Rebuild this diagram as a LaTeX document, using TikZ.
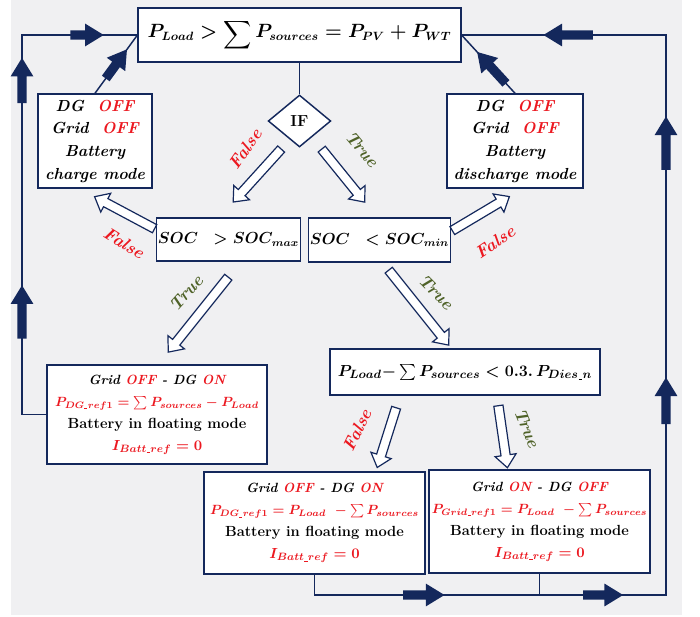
\documentclass[tikz,border=0pt]{standalone}
\usepackage{amsmath}
\usepackage{exscale}
\usepackage{graphicx}
\usetikzlibrary{shapes.geometric,shapes.arrows}

\definecolor{navy}{RGB}{20,40,92}
\definecolor{bggray}{RGB}{240,240,242}
\definecolor{offred}{RGB}{236,24,32}
\definecolor{truegreen}{RGB}{79,98,40}

\tikzset{
  box/.style={draw=navy, line width=1.1pt, fill=white, align=center, inner sep=1pt},
  flow/.style={draw=navy, line width=1.1pt},
  farrow/.style={single arrow, fill=navy, inner xsep=0pt, inner ysep=3pt,
    single arrow head extend=5pt, single arrow tip angle=63,
    sloped, allow upside down, minimum height=#1},
  harrow/.style={single arrow, draw=navy, fill=white, line width=0.9pt,
    inner xsep=0pt, inner ysep=3pt, single arrow head extend=4.5pt,
    single arrow tip angle=80, sloped, allow upside down, minimum height=#1},
  nolab/.style={text=offred, font=\bfseries\itshape\fontsize{13}{15}\selectfont},
  yeslab/.style={text=truegreen, font=\bfseries\itshape\fontsize{13}{15}\selectfont},
}
\newcommand{\red}[1]{\textcolor{offred}{#1}}
\newcommand{\us}{\text{\kern.04em\rule[-.12ex]{.32em}{.07ex}\kern.04em}}
\newcommand{\eqline}[1]{{\fontsize{10}{16.5}\selectfont\red{#1}}}
\newcommand{\bigsum}{\mathop{\raisebox{-2pt}{\scalebox{1.02}{$\displaystyle\sum$}}}}

\begin{document}
\begin{tikzpicture}[x=0.75pt,y=-0.75pt]
\useasboundingbox (0,0) rectangle (700,617);
\fill[white] (0,0) rectangle (700,617);
\fill[bggray] (11,0) rectangle (682,615);

% main condition
\node[box, inner sep=0pt, minimum width=242pt, minimum height=40.5pt,
  font=\boldmath\fontsize{13.5}{16}\selectfont] (top) at (299.5,35)
  {$P_{Load} > \bigsum P_{sources} = P_{PV} + P_{WT}$};
\node[diamond, draw=navy, line width=1.1pt, fill=white, inner sep=0pt,
  minimum width=47pt, minimum height=39pt, font=\bfseries\fontsize{12}{14}\selectfont]
  (ifnode) at (299.5,121) {IF};

% battery modes
\node[box, minimum width=85.5pt, minimum height=70.5pt,
  font=\bfseries\itshape\fontsize{12}{17}\selectfont] (charge) at (95,141)
  {DG~~\red{OFF}\\ Grid~~\red{OFF}\\ Battery\\ charge mode};
\node[box, minimum width=102pt, minimum height=70.5pt,
  font=\bfseries\itshape\fontsize{12}{17}\selectfont] (discharge) at (515,141)
  {DG~~\red{OFF}\\ Grid~~\red{OFF}\\ Battery\\ discharge mode};

% state of charge tests
\node[box, minimum width=100pt, minimum height=32pt,
  font=\boldmath\fontsize{12}{14}\selectfont] (socmax) at (228.5,239.5)
  {$SOC\ \ > SOC_{max}$};
\node[box, minimum width=100pt, minimum height=33pt,
  font=\boldmath\fontsize{12}{14}\selectfont] (socmin) at (379.5,240)
  {$SOC\ \ < SOC_{min}$};

% diesel / grid cases
\node[box, minimum width=165pt, minimum height=74pt,
  font=\bfseries\boldmath\fontsize{11}{16.5}\selectfont] (dgon) at (157,414.5)
  {{\fontsize{10}{16.5}\selectfont\itshape Grid\ \red{OFF} - DG\ \red{ON}}\\
   \eqline{$P_{DG\us ref1} = \sum P_{sources} - P_{Load}$}\\
   Battery in floating mode\\
   \red{$I_{Batt\us ref} = 0$}};
\node[box, minimum width=202.5pt, minimum height=34.5pt,
  font=\boldmath\fontsize{12.5}{15}\selectfont] (compare) at (465,372)
  {$P_{Load}{-}\sum P_{sources} < 0.3.\,P_{Dies\us n}$};
\node[box, minimum width=166pt, minimum height=76.5pt,
  font=\bfseries\boldmath\fontsize{11}{16.5}\selectfont] (dgonb) at (314.5,523)
  {{\fontsize{10}{16.5}\selectfont\itshape Grid\ \red{OFF} - DG\ \red{ON}}\\
   \eqline{$P_{DG\us ref1} = P_{Load}\ - \sum P_{sources}$}\\
   Battery in floating mode\\
   \red{$I_{Batt\us ref} = 0$}};
\node[box, minimum width=166pt, minimum height=77pt,
  font=\bfseries\boldmath\fontsize{11}{16.5}\selectfont] (gridon) at (539.5,521.5)
  {{\fontsize{10}{16.5}\selectfont\itshape Grid\ \red{ON}\ - DG\ \red{OFF}}\\
   \eqline{$P_{Grid\us ref1} = P_{Load}\ - \sum P_{sources}$}\\
   Battery in floating mode\\
   \red{$I_{Batt\us ref} = 0$}};

% feedback loops
\coordinate (lt) at (22,35);
\coordinate (rt) at (666,35);
\coordinate (rb) at (666,595);
\draw[flow] (top) -- (ifnode);
\draw[flow] (dgon.west) -- (dgon.west -| lt)
  -- node[farrow=40pt,pos=.26]{} node[farrow=34pt,pos=.87]{} (lt)
  -- node[farrow=25pt,pos=.53]{} (top.west);
\draw[flow] (charge.north) -- node[farrow=27pt,pos=.45]{} (top.west);
\draw[flow] (discharge.north) -- node[farrow=32pt,pos=.39]{} (top.east);
\draw[flow] (dgonb.south) -- (dgonb.south |- rb)
  -- node[farrow=31pt,pos=.30]{} node[farrow=30pt,pos=.81]{} (rb)
  -- node[farrow=35pt,pos=.34]{} node[farrow=40pt,pos=.80]{} (rt)
  -- node[farrow=37pt,pos=.46]{} (top.east);
\draw[flow] (gridon.south) -- (gridon.south |- rb);

% decision arrows
\coordinate (h1a) at (283,147); \coordinate (h1b) at (235,200);
\coordinate (h2a) at (320,147); \coordinate (h2b) at (363,200);
\coordinate (h3a) at (157,230); \coordinate (h3b) at (97,198);
\coordinate (h4a) at (230,275); \coordinate (h4b) at (170,350);
\coordinate (h5a) at (450,232); \coordinate (h5b) at (507,198);
\coordinate (h6a) at (387,268); \coordinate (h6b) at (447,343);
\coordinate (h7a) at (397,405); \coordinate (h7b) at (378,465);
\coordinate (h8a) at (498,403); \coordinate (h8b) at (507,465);
\path (h1a) -- node[harrow=53.6pt]{} (h1b);
\path (h2a) -- node[harrow=51.2pt]{} (h2b);
\path (h3a) -- node[harrow=51pt]{} (h3b);
\path (h4a) -- node[harrow=72pt]{} (h4b);
\path (h5a) -- node[harrow=49.8pt]{} (h5b);
\path (h6a) -- node[harrow=72pt]{} (h6b);
\path (h7a) -- node[harrow=47pt]{} (h7b);
\path (h8a) -- node[harrow=47pt]{} (h8b);

% branch labels
\node[nolab, rotate=55] (no1) at (245,149) {False};
\node[yeslab, rotate=-50] (yes1) at (362,149) {True};
\node[nolab, rotate=-32] (no2) at (124,243) {False};
\node[yeslab, rotate=48] (yes2) at (186,293) {True};
\node[nolab, rotate=34] (no3) at (495,242) {False};
\node[yeslab, rotate=-45] (yes3) at (436,292) {True};
\node[nolab, rotate=64] (no4) at (357,430) {False};
\node[yeslab, rotate=-68] (yes4) at (527,428) {True};
\end{tikzpicture}
\end{document}
